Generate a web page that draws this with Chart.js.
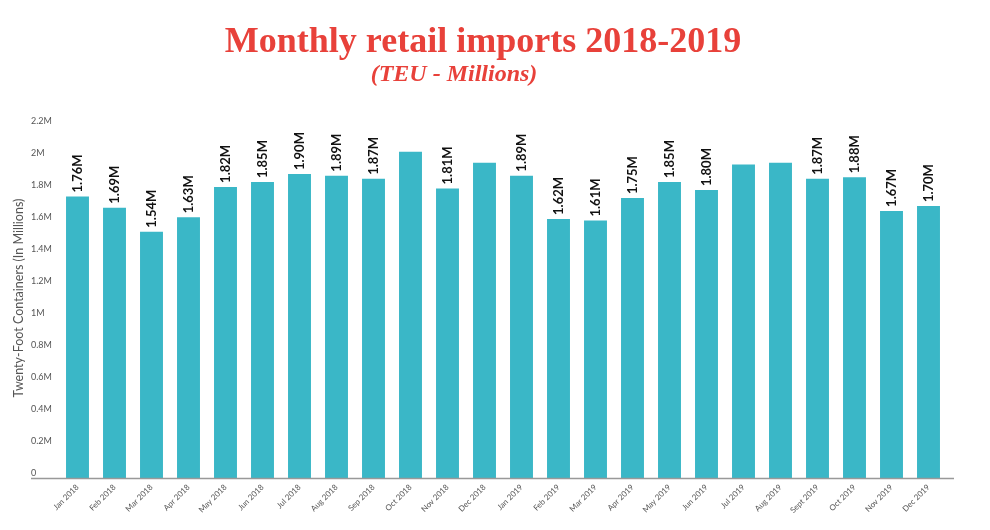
<!DOCTYPE html>
<html>
<head>
<meta charset="utf-8">
<title>Monthly retail imports 2018-2019</title>
<script src="https://cdn.jsdelivr.net/npm/chart.js@4.4.1/dist/chart.umd.min.js"></script>
<style>
    html, body { margin: 0; padding: 0; background: #fff; }
    #chart-wrap { width: 990px; height: 530px; }
</style>
</head>
<body>
<div id="chart-wrap"><canvas id="imports-chart" width="990" height="530"></canvas></div>
<script>
// month labels along the x axis
const months = [
    'Jan 2018', 'Feb 2018', 'Mar 2018', 'Apr 2018', 'May 2018', 'Jun 2018',
    'Jul 2018', 'Aug 2018', 'Sep 2018', 'Oct 2018', 'Nov 2018', 'Dec 2018',
    'Jan 2019', 'Feb 2019', 'Mar 2019', 'Apr 2019', 'May 2019', 'Jun 2019',
    'Jul 2019', 'Aug 2019', 'Sept 2019', 'Oct 2019', 'Nov 2019', 'Dec 2019'
];

// TEU in millions
const importsTEU = [
    1.76, 1.69, 1.54, 1.63, 1.82, 1.85, 1.90, 1.89, 1.87, 2.04, 1.81, 1.97,
    1.89, 1.62, 1.61, 1.75, 1.85, 1.80, 1.96, 1.97, 1.87, 1.88, 1.67, 1.70
];

// text printed above each bar (some bars have none)
const barLabels = [
    '1.76M', '1.69M', '1.54M', '1.63M', '1.82M', '1.85M', '1.90M', '1.89M', '1.87M', null, '1.81M', null,
    '1.89M', '1.62M', '1.61M', '1.75M', '1.85M', '1.80M', null, null, '1.87M', '1.88M', '1.67M', '1.70M'
];

// y axis ticks
const yTicks = [0, 0.2, 0.4, 0.6, 0.8, 1, 1.2, 1.4, 1.6, 1.8, 2, 2.2];

const titleText = 'Monthly retail imports 2018-2019';
const subtitleText = '(TEU - Millions)';
const yTitleText = 'Twenty-Foot Containers (In Millions)';

const barColor = '#3AB7C7';
const titleRed = '#E8413A';

// heading, subheading and the y axis title
const headingPlugin = {
    id: 'headings',
    afterDraw(chart) {
        const ctx = chart.ctx;
        ctx.save();
        ctx.fillStyle = titleRed;
        ctx.textAlign = 'center';
        ctx.textBaseline = 'alphabetic';
        ctx.font = 'bold 36px "Liberation Serif"';
        ctx.fillText(titleText, 483, 52);
        ctx.font = 'italic bold 24px "Liberation Serif"';
        ctx.fillText(subtitleText, 454, 81);

        ctx.fillStyle = '#555';
        ctx.font = '12.5px Lato';
        ctx.textBaseline = 'middle';
        ctx.translate(19, 298);
        ctx.rotate(-Math.PI / 2);
        ctx.fillText(yTitleText, 0, 0);
        ctx.restore();
    }
};

// vertical value labels over the bars
const barLabelPlugin = {
    id: 'barLabels',
    afterDatasetsDraw(chart) {
        const ctx = chart.ctx;
        const meta = chart.getDatasetMeta(0);
        ctx.save();
        ctx.fillStyle = '#111';
        ctx.font = 'bold 13px Lato';
        ctx.textAlign = 'left';
        ctx.textBaseline = 'middle';
        meta.data.forEach((bar, i) => {
            if (!barLabels[i]) return;
            ctx.save();
            ctx.translate(bar.x + 0.5, bar.y - 4);
            ctx.rotate(-Math.PI / 2);
            ctx.fillText(barLabels[i], 0, 0);
            ctx.restore();
        });
        ctx.restore();
    }
};

// grey baseline, a bit wider than the bars area
const baselinePlugin = {
    id: 'baseline',
    afterDatasetsDraw(chart) {
        const ctx = chart.ctx;
        const y = chart.scales.y.getPixelForValue(0);
        ctx.save();
        ctx.strokeStyle = '#999';
        ctx.lineWidth = 1.5;
        ctx.beginPath();
        ctx.moveTo(31, y);
        ctx.lineTo(chart.chartArea.right + 7, y);
        ctx.stroke();
        ctx.restore();
    }
};

const chart = new Chart(document.getElementById('imports-chart'), {
    type: 'bar',
    data: {
        labels: months,
        datasets: [{
            label: 'Retail imports (TEU, millions)',
            data: importsTEU,
            backgroundColor: barColor,
            barPercentage: 0.62,
            categoryPercentage: 1.0
        }]
    },
    options: {
        responsive: false,
        animation: false,
        devicePixelRatio: 1,
        layout: {
            padding: { left: 31, right: 43, top: 126, bottom: 11 }
        },
        plugins: {
            legend: { display: false },
            tooltip: { enabled: false }
        },
        scales: {
            x: {
                grid: { display: false, drawTicks: false },
                border: { display: false },
                afterFit(scale) {
                    // rotated labels may hang past the edges, don't shrink the plot for them
                    scale.paddingLeft = 0;
                    scale.paddingRight = 0;
                },
                ticks: {
                    color: '#555',
                    font: { family: 'Lato', size: 8 },
                    minRotation: 45,
                    maxRotation: 45,
                    autoSkip: false,
                    padding: 4
                }
            },
            y: {
                min: 0,
                max: 2.2,
                grid: { display: false, drawTicks: false },
                border: { display: false },
                afterBuildTicks(scale) {
                    scale.ticks = yTicks.map(v => ({ value: v }));
                },
                afterFit(scale) {
                    scale.width = 28;
                },
                ticks: {
                    color: '#555',
                    font: { family: 'Lato', size: 9 },
                    crossAlign: 'far',
                    padding: 10,
                    labelOffset: -5,
                    callback: v => (v === 0 ? '0' : parseFloat(v.toFixed(1)) + 'M')
                }
            }
        }
    },
    plugins: [barLabelPlugin, baselinePlugin, headingPlugin]
});
</script>
</body>
</html>
